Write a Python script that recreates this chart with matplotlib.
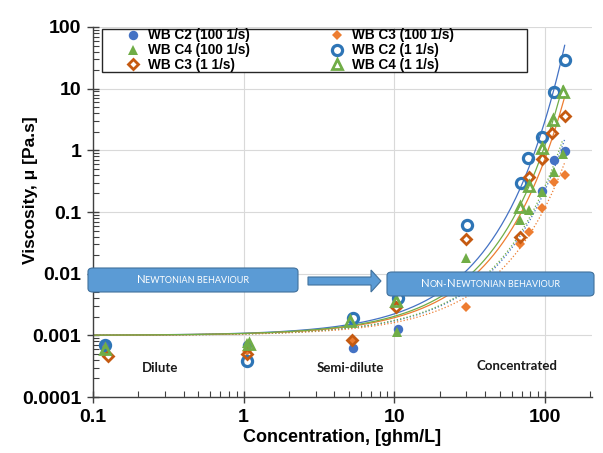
import numpy as np
import matplotlib
matplotlib.use("Agg")
import matplotlib.pyplot as plt
from matplotlib.patches import FancyBboxPatch, FancyArrow, Rectangle
from matplotlib.ticker import LogLocator, NullFormatter, FixedLocator, FixedFormatter

plt.rcParams['font.family'] = ['Liberation Sans', 'DejaVu Sans']

# ---- data ----
conc_c2_100 = [0.12, 1.05, 5.3, 10.6, 95, 114, 135]
visc_c2_100 = [0.0007, 0.0007, 0.00062, 0.00126, 0.22, 0.70, 0.99]

conc_c3_100 = [0.12, 1.05, 5.3, 30, 68, 78, 95, 114, 135]
visc_c3_100 = [0.0006, 0.00056, 0.0008, 0.0029, 0.030, 0.048, 0.117, 0.31, 0.40]

conc_c4_100 = [0.12, 1.05, 10.4, 30, 68, 78, 95, 114, 131]
visc_c4_100 = [0.0006, 0.00075, 0.00115, 0.018, 0.074, 0.106, 0.21, 0.45, 0.87]

conc_c2_1 = [0.12, 1.05, 5.3, 10.6, 30.5, 69, 77, 95, 114, 135]
visc_c2_1 = [0.0007, 0.00039, 0.0019, 0.004, 0.062, 0.29, 0.74, 1.67, 8.9, 29]

conc_c3_1 = [0.125, 1.05, 5.2, 10.3, 30, 68, 78, 96, 112, 135]
visc_c3_1 = [0.00046, 0.0005, 0.00085, 0.0029, 0.036, 0.040, 0.375, 0.73, 1.9, 3.6]

conc_c4_1 = [0.12, 1.08, 5.1, 10.3, 68, 78, 95, 113, 131]
visc_c4_1 = [0.0006, 0.00072, 0.0017, 0.0036, 0.12, 0.26, 1.08, 3.1, 8.9]

series_labels = ["WB C2 (100 1/s)", "WB C3 (100 1/s)", "WB C4 (100 1/s)",
                 "WB C2 (1 1/s)", "WB C3 (1 1/s)", "WB C4 (1 1/s)"]
x_ticks = [0.1, 1, 10, 100]
x_ticklabels = ["0.1", "1", "10", "100"]
y_ticks = [0.0001, 0.001, 0.01, 0.1, 1, 10, 100]
y_ticklabels = ["0.0001", "0.001", "0.01", "0.1", "1", "10", "100"]
TREND_INTERCEPT = 0.001  # exponential trendline with fixed intercept

region_labels = ["Dilute", "Semi-dilute", "Concentrated"]
box_texts = ["Newtonian behaviour", "Non-Newtonian behaviour"]

BLUE = "#4472C4"
BLUE_RING = "#2E75B6"
ORANGE = "#ED7D31"
ORANGE_DK = "#C55A11"
GREEN = "#70AD47"
BOX = "#5B9BD5"

W, H = 603.0, 453.0
def fx(p):
    return p / W
def fy(p):
    return 1 - p / H

fig = plt.figure(figsize=(6.03, 4.53), dpi=100)
ax = fig.add_axes([0.1542, 0.1236, 0.8276, 0.8168])
ax.set_xscale('log')
ax.set_yscale('log')
ax.set_xlim(0.1, 205)
ax.set_ylim(1e-4, 100)

styles = [
    (conc_c2_100, visc_c2_100, dict(marker='o', ms=6.8, mfc=BLUE, mec=BLUE, mew=0), BLUE, ':'),
    (conc_c3_100, visc_c3_100, dict(marker='D', ms=5.6, mfc=ORANGE, mec=ORANGE, mew=0), ORANGE, ':'),
    (conc_c4_100, visc_c4_100, dict(marker='^', ms=7.2, mfc=GREEN, mec=GREEN, mew=0), GREEN, ':'),
    (conc_c2_1, visc_c2_1, dict(marker='o', ms=7.3, mfc='none', mec=BLUE_RING, mew=2.3), BLUE, '-'),
    (conc_c3_1, visc_c3_1, dict(marker='D', ms=5.6, mfc='none', mec=ORANGE_DK, mew=2.0), ORANGE, '-'),
    (conc_c4_1, visc_c4_1, dict(marker='^', ms=7.2, mfc='none', mec=GREEN, mew=2.0), GREEN, '-'),
]

handles = []
for (xs, ys, mk, lc, ls), lab in zip(styles, series_labels):
    xs = np.asarray(xs, float)
    ys = np.asarray(ys, float)
    # exponential trendline y = a*exp(b x), a fixed
    b = np.sum(xs * np.log(ys / TREND_INTERCEPT)) / np.sum(xs ** 2)
    xf = np.logspace(np.log10(0.1), np.log10(xs.max()), 300)
    ax.plot(xf, TREND_INTERCEPT * np.exp(b * xf), color=lc, lw=0.9, ls=ls, zorder=2)
    h, = ax.plot(xs, ys, ls='none', zorder=3, label=lab, **mk)
    handles.append(h)

# grid
ax.grid(True, which='major', color='#D9D9D9', lw=0.8)
ax.set_axisbelow(True)
for s in ['top', 'right']:
    ax.spines[s].set_visible(False)
for s in ['left', 'bottom']:
    ax.spines[s].set_color('#404040')
    ax.spines[s].set_linewidth(1.0)

ax.xaxis.set_major_locator(FixedLocator(x_ticks))
ax.xaxis.set_major_formatter(FixedFormatter(x_ticklabels))
ax.yaxis.set_major_locator(FixedLocator(y_ticks))
ax.yaxis.set_major_formatter(FixedFormatter(y_ticklabels))
ax.xaxis.set_minor_locator(LogLocator(base=10, subs=np.arange(2, 10), numticks=20))
ax.yaxis.set_minor_locator(LogLocator(base=10, subs=np.arange(2, 10), numticks=20))
ax.xaxis.set_minor_formatter(NullFormatter())
ax.yaxis.set_minor_formatter(NullFormatter())
ax.tick_params(which='major', direction='inout', length=9, width=1.0, color='#404040',
               labelsize=14, pad=4)
ax.tick_params(which='minor', direction='in', length=4, width=0.8, color='#404040')
for t in ax.get_xticklabels() + ax.get_yticklabels():
    t.set_fontweight('bold')

ax.set_xlabel("Concentration, [ghm/L]", fontsize=13, fontweight='bold', labelpad=2)
ax.set_ylabel("Viscosity, μ [Pa.s]", fontsize=12.5, fontweight='bold', labelpad=6)
ax.yaxis.set_label_coords(-0.11, 0.56)

# legend: separate frame + frameless legend (row-wise ordering in 2 columns)
frame = Rectangle((fx(102), fy(72)), fx(527) - fx(102), fy(29) - fy(72),
                  transform=fig.transFigure, facecolor='white', edgecolor='#262626',
                  lw=1.0, zorder=4.9)
ax.add_patch(frame)
order = [0, 2, 4, 1, 3, 5]
leg = ax.legend([handles[i] for i in order], [series_labels[i] for i in order],
                ncol=2, loc='upper left', bbox_to_anchor=(fx(126), fy(28.5)),
                bbox_transform=fig.transFigure,
                frameon=False, prop=dict(weight='bold', size=9.8), borderpad=0,
                labelspacing=0.06, handletextpad=0.6, columnspacing=5.9,
                handlelength=1.0, borderaxespad=0)
leg.set_zorder(5)

# region labels
rl_font = dict(fontsize=9.5, fontweight='bold', family=['Lato', 'DejaVu Sans'], color='#1a1a1a')
ax.text(0.28, 0.0003, region_labels[0], ha='center', va='center', **rl_font)
ax.text(5.1, 0.0003, region_labels[1], ha='center', va='center', **rl_font)
ax.text(65, 0.00032, region_labels[2], ha='center', va='center', **rl_font)

# behaviour boxes and arrow (figure pixel coords)
def small_caps(xc, yc, text, big=8.2, small=6.5):
    runs = []
    for ch in text:
        size = big if ch.isupper() else small
        if runs and runs[-1][1] == size:
            runs[-1][0] += ch.upper()
        else:
            runs.append([ch.upper(), size])
    props = dict(color='white', family=['Lato', 'DejaVu Sans'], zorder=11)
    renderer = fig.canvas.get_renderer()
    widths = []
    for s, sz in runs:
        t = fig.text(0, 0, s, fontsize=sz, **props)
        widths.append(t.get_window_extent(renderer).width)
        t.remove()
    total = sum(widths)
    x = fx(xc) * W - total / 2
    for (s, sz), w in zip(runs, widths):
        fig.text(x / W, fy(yc + 3.4), s, fontsize=sz, ha='left', va='baseline', **props)
        x += w

def add_box(x0, y0, x1, y1, text):
    bx = FancyBboxPatch((fx(x0), fy(y1)), fx(x1) - fx(x0), fy(y0) - fy(y1),
                        boxstyle="round,pad=0,rounding_size=0.008",
                        transform=fig.transFigure, facecolor=BOX,
                        edgecolor='#41719C', lw=0.8, zorder=10)
    fig.patches.append(bx)
    small_caps((x0 + x1) / 2, (y0 + y1) / 2, text)

add_box(88, 268, 298, 292, box_texts[0])
add_box(387, 272, 594, 296, box_texts[1])
arr = FancyArrow(fx(308), fy(281), fx(381) - fx(308), 0, width=8 / H,
                 head_width=22 / H, head_length=10 / W, length_includes_head=True,
                 transform=fig.transFigure, facecolor=BOX, edgecolor='#41719C', lw=0.8)
fig.patches.append(arr)

fig.savefig("out.png", dpi=100)
